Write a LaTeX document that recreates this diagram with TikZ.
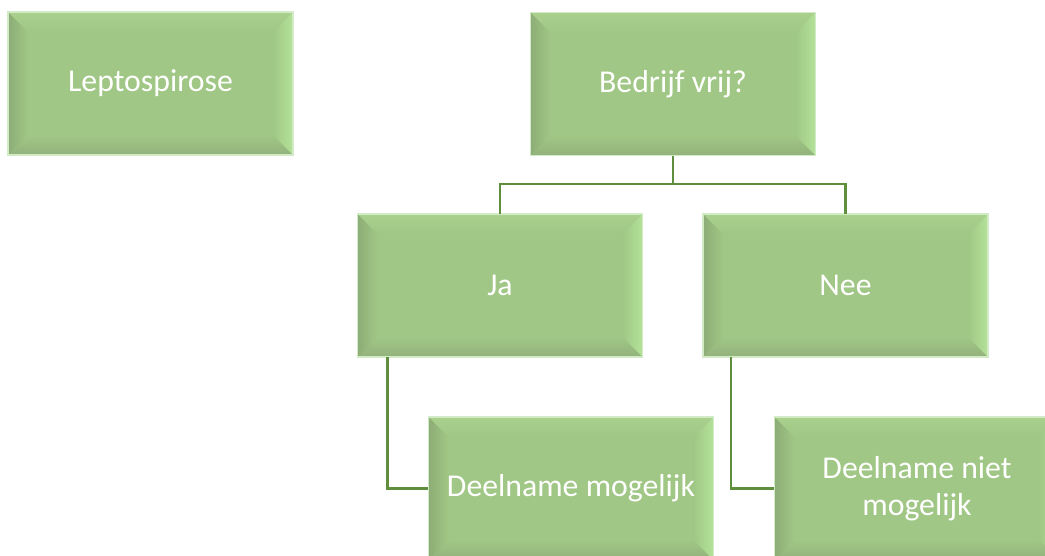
\documentclass[tikz,border=0pt]{standalone}
\usepackage{fontspec}
\setmainfont{Carlito}
\definecolor{blokvul}{HTML}{A0C785}
\definecolor{blokrand}{HTML}{D3EAC6}
\definecolor{schuindonker}{HTML}{8CAD77}
\definecolor{schuinlicht}{HTML}{B4E39A}
\definecolor{schuinboven}{HTML}{A9D08D}
\definecolor{schuinonder}{HTML}{92B27C}
\definecolor{lijnkleur}{HTML}{5F8F3C}
\tikzset{
	blok/.style={draw=blokrand, line width=1.2pt, fill=blokvul, text=white,
		minimum width=7.125cm, minimum height=3.575cm, outer sep=0pt, inner sep=2pt,
		align=center, font=\fontsize{22.6}{26.5}\selectfont,
		path picture={
			\def\bv{0.5cm}
			\coordinate (nw) at (path picture bounding box.north west);
			\coordinate (ne) at (path picture bounding box.north east);
			\coordinate (sw) at (path picture bounding box.south west);
			\coordinate (se) at (path picture bounding box.south east);
			\shade[top color=schuinboven, bottom color=blokvul] (nw) -- (ne) -- ([shift={(-\bv,-\bv)}]ne) -- ([shift={(\bv,-\bv)}]nw) -- cycle; % boven
			\shade[top color=blokvul, bottom color=schuinonder] (sw) -- (se) -- ([shift={(-\bv,\bv)}]se) -- ([shift={(\bv,\bv)}]sw) -- cycle; % onder
			\shade[left color=schuindonker, right color=blokvul] (nw) -- (sw) -- ([shift={(\bv,\bv)}]sw) -- ([shift={(\bv,-\bv)}]nw) -- cycle; % links
			\shade[left color=blokvul, right color=schuinlicht] (ne) -- (se) -- ([shift={(-\bv,\bv)}]se) -- ([shift={(-\bv,-\bv)}]ne) -- cycle; % rechts
		}},
	lijn/.style={draw=lijnkleur, line width=2.1pt}
}
\begin{document}
\begin{tikzpicture}[x=0.025cm, y=-0.025cm]
	\useasboundingbox (0,0) rectangle (1045,555);
	\clip (0,0) rectangle (1045,555);
	
	% Blokken
	\node[blok] (lepto) at (150.5,83.5) {Leptospirose};
	\node[blok] (bedrijf) at (673,84) {Bedrijf vrij?};
	\node[blok] (ja) at (500,285.5) {Ja};
	\node[blok] (nee) at (845.5,285.5) {Nee};
	\node[blok] (deelja) at (571,488.5) {Deelname mogelijk};
	\node[blok] (deelnee) at (917,488.5) {Deelname niet\\mogelijk};
	
	% Verbindingen
	\coordinate (tak) at (673,184);
	\draw[lijn] (bedrijf.south) -- (tak);
	\draw[lijn] (tak) -| (ja.north);
	\draw[lijn] (tak) -| (nee.north);
	\draw[lijn] ([xshift=0.75cm]ja.south west) |- (deelja.west);
	\draw[lijn] ([xshift=0.7cm]nee.south west) |- (deelnee.west);
\end{tikzpicture}
\end{document}
